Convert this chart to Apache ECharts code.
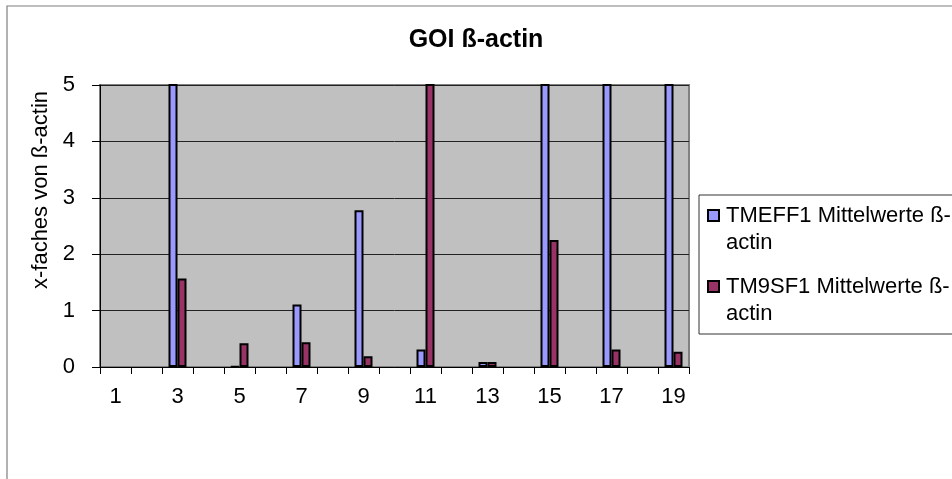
<!DOCTYPE html>
<html>
<head>
<meta charset="utf-8">
<title>GOI ß-actin</title>
<script src="https://cdn.jsdelivr.net/npm/echarts@6/dist/echarts.min.js"></script>
<style>
  html, body { margin: 0; padding: 0; background: #fff; }
  #chart { width: 952px; height: 479px; }
</style>
</head>
<body>
<div id="chart"></div>
<script>
// Sample numbers 1..19 on the category axis
const categories = ['1','2','3','4','5','6','7','8','9','10','11','12','13','14','15','16','17','18','19'];

// Mean fold change relative to ß-actin (values above 5 run past the axis top)
const tmeff1Values = [null, null, 8.5, null, 0.01, null, 1.11, null, 2.78, null, 0.31, null, 0.09, null, 11.2, null, 9.6, null, 7.4];
const tm9sf1Values = [null, null, 1.57, null, 0.42, null, 0.44, null, 0.19, null, 6.3, null, 0.09, null, 2.25, null, 0.31, null, 0.27];

const seriesNames = ['TMEFF1 Mittelwerte ß-actin', 'TM9SF1 Mittelwerte ß-actin'];
const yTicks = [0, 1, 2, 3, 4, 5];

const FONT = '"Liberation Sans", Arial, sans-serif';

const chart = echarts.init(document.getElementById('chart'), null, { renderer: 'canvas' });

chart.setOption({
  animation: false,
  backgroundColor: '#ffffff',
  title: {
    text: 'GOI ß-actin',
    left: 'center',
    top: 28,
    padding: 0,
    textStyle: { fontFamily: FONT, fontWeight: 'bold', fontSize: 25, color: '#000' }
  },
  graphic: [{
    type: 'rect',
    silent: true,
    z: -1,
    shape: { x: 7, y: 6, width: 1000, height: 520 },
    style: { fill: 'none', stroke: '#7f7f7f', lineWidth: 1.2 }
  }],
  legend: {
    orient: 'vertical',
    left: 699,
    top: 195,
    padding: [7, 12, 7, 8],
    itemGap: 17,
    itemWidth: 13,
    itemHeight: 38,
    // square at the top of a tall icon box so it sits beside the first text line
    icon: 'path://M0,0h11v11h-11z M13,38L13,38',
    borderColor: '#333',
    borderWidth: 1,
    backgroundColor: '#fff',
    formatter: name => name.replace('ß-actin', 'ß-\nactin'),
    textStyle: { fontFamily: FONT, fontSize: 22, lineHeight: 27, color: '#000' },
    data: seriesNames
  },
  grid: {
    left: 100, top: 85, right: 263, bottom: 112,
    show: true,
    backgroundColor: '#c0c0c0',
    borderColor: '#808080',
    borderWidth: 2
  },
  xAxis: {
    type: 'category',
    data: categories,
    boundaryGap: true,
    axisLine: { show: true, lineStyle: { color: '#000', width: 1 } },
    axisTick: { show: true, interval: 0, length: 7, lineStyle: { color: '#000' } },
    axisLabel: { interval: 1, margin: 19, fontFamily: FONT, fontSize: 22, color: '#000' },
    splitLine: { show: false }
  },
  yAxis: {
    type: 'value',
    min: yTicks[0],
    max: yTicks[yTicks.length - 1],
    interval: 1,
    name: 'x-faches von ß-actin',
    nameLocation: 'middle',
    nameRotate: 90,
    nameGap: 44,
    nameTextStyle: { fontFamily: FONT, fontSize: 22, color: '#000', padding: [0, 0, 0, 72] },
    axisLine: { show: true, lineStyle: { color: '#000', width: 1 } },
    axisTick: { show: true, inside: false, length: 8, lineStyle: { color: '#000' } },
    axisLabel: { margin: 25, fontFamily: FONT, fontSize: 22, color: '#000' },
    splitLine: { show: true, lineStyle: { color: '#222', width: 1 } }
  },
  series: [
    {
      name: seriesNames[0],
      type: 'bar',
      data: tmeff1Values,
      barWidth: 9,
      barGap: '0%',
      clip: true,
      itemStyle: { color: '#9999ff', borderColor: '#000', borderWidth: 2 }
    },
    {
      name: seriesNames[1],
      type: 'bar',
      data: tm9sf1Values,
      barWidth: 9,
      barGap: '0%',
      clip: true,
      itemStyle: { color: '#993366', borderColor: '#000', borderWidth: 2 }
    }
  ]
});
</script>
</body>
</html>
